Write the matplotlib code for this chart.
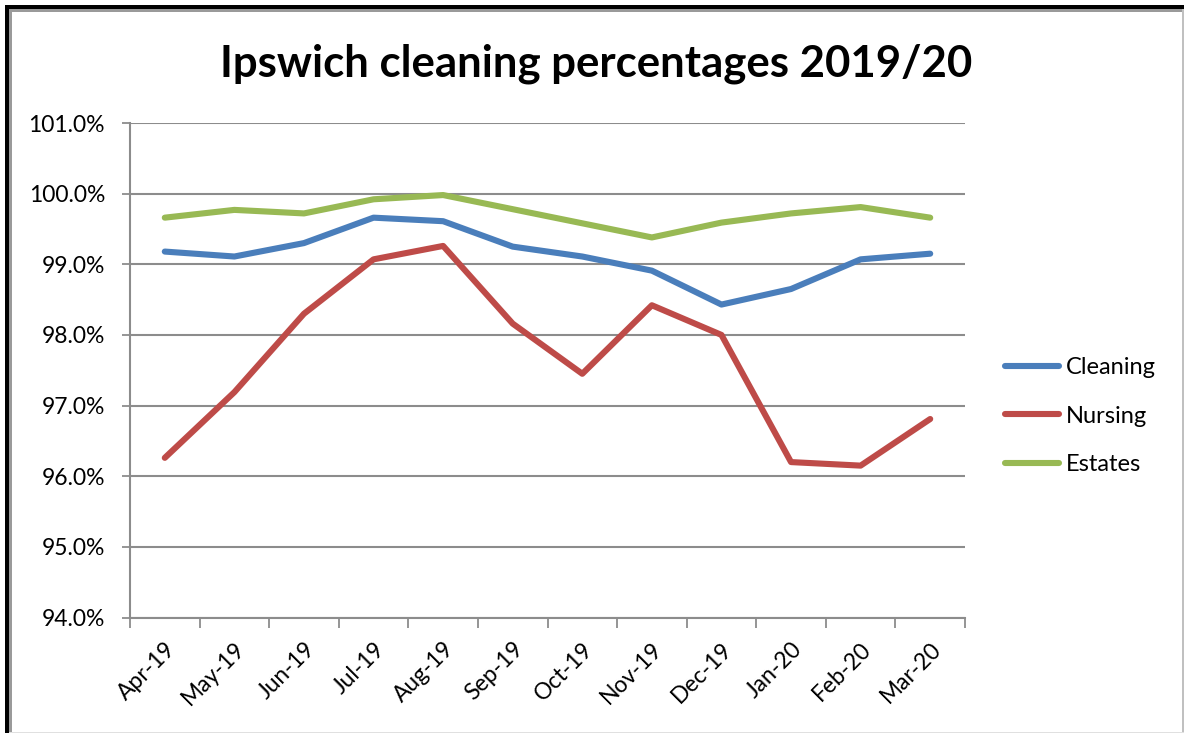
import matplotlib
matplotlib.use("Agg")
import matplotlib.pyplot as plt
from matplotlib.patches import Rectangle
from matplotlib.ticker import FixedLocator, FuncFormatter
import numpy as np

months = ["Apr-19", "May-19", "Jun-19", "Jul-19", "Aug-19", "Sep-19",
          "Oct-19", "Nov-19", "Dec-19", "Jan-20", "Feb-20", "Mar-20"]
cleaning = [99.18, 99.11, 99.30, 99.66, 99.61, 99.25,
            99.11, 98.91, 98.43, 98.65, 99.07, 99.15]
nursing = [96.26, 97.19, 98.30, 99.07, 99.26, 98.16,
           97.45, 98.42, 98.00, 96.20, 96.15, 96.81]
estates = [99.66, 99.77, 99.72, 99.92, 99.98, 99.78,
           99.58, 99.38, 99.59, 99.72, 99.81, 99.66]
y_ticks = [94, 95, 96, 97, 98, 99, 100, 101]

W, H = 1184, 733
FONT = "Lato"
GRID = "#8c8c8c"

fig = plt.figure(figsize=(W / 100, H / 100), dpi=100)
fig.patch.set_facecolor("white")

def px(x0, y0, w, h, color):
    fig.add_artist(Rectangle((x0 / W, 1 - (y0 + h) / H), w / W, h / H,
                             transform=fig.transFigure, facecolor=color,
                             edgecolor="none", zorder=10))

# frame around the chart
px(5, 5, W - 5, 4, "black")
px(5, 5, 4, H - 5, "black")
px(9, 9, W - 9, 2.5, "#9a9a9a")
px(9, 9, 2.5, H - 9, "#9a9a9a")
px(W - 2, 9, 2, H - 9, "#c0c0c0")
px(9, H - 1.5, W - 9, 1.5, "#e0e0e0")

left, right, top, bottom = 130, 965, 123, 617.5
ax = fig.add_axes([left / W, 1 - bottom / H, (right - left) / W, (bottom - top) / H])

x = np.arange(len(months))
series = [("Cleaning", cleaning, "#4a7ebb"),
          ("Nursing", nursing, "#be4b48"),
          ("Estates", estates, "#98b954")]
for name, vals, col in series:
    ax.plot(x, vals, color=col, lw=4.4, solid_capstyle="round",
            solid_joinstyle="round", label=name, zorder=3)

ax.set_xlim(-0.5, len(months) - 0.5)
ax.set_ylim(y_ticks[0], y_ticks[-1])
ax.yaxis.set_major_locator(FixedLocator(y_ticks))
ax.yaxis.set_major_formatter(FuncFormatter(lambda v, p: f"{v:.1f}%"))
ax.grid(axis="y", color=GRID, lw=1.5, zorder=1)
ax.set_axisbelow(True)

ax.set_xticks(x)
ax.set_xticklabels(months, rotation=45, ha="right", va="top",
                   rotation_mode="anchor", fontsize=16.5, family=FONT)
ax.set_xticks(np.arange(-0.5, len(months)), minor=True)
ax.tick_params(axis="x", which="major", length=0, pad=15)
ax.tick_params(axis="x", which="minor", length=7, width=1.3, color=GRID)
ax.tick_params(axis="y", length=6, width=1.3, color=GRID, pad=12,
               labelsize=16.5)
for lab in ax.get_yticklabels():
    lab.set_family(FONT)

for s in ("top", "right"):
    ax.spines[s].set_visible(False)
for s in ("left", "bottom"):
    ax.spines[s].set_color(GRID)
    ax.spines[s].set_linewidth(1.5)

fig.text(596 / W, 1 - 76 / H, "Ipswich cleaning percentages 2019/20",
         ha="center", va="baseline", fontsize=31.5, fontweight="bold",
         family=FONT)

leg = fig.legend(loc="upper left", bbox_to_anchor=(1005 / W, 1 - 357 / H),
                 frameon=False, prop={"family": FONT, "size": 17},
                 handlelength=2.3, handletextpad=0.28, labelspacing=1.17,
                 borderpad=0, borderaxespad=0)
for h in leg.get_lines():
    h.set_linewidth(4.4)
    h.set_solid_capstyle("round")

fig.savefig("out.png", dpi=100, facecolor="white")
